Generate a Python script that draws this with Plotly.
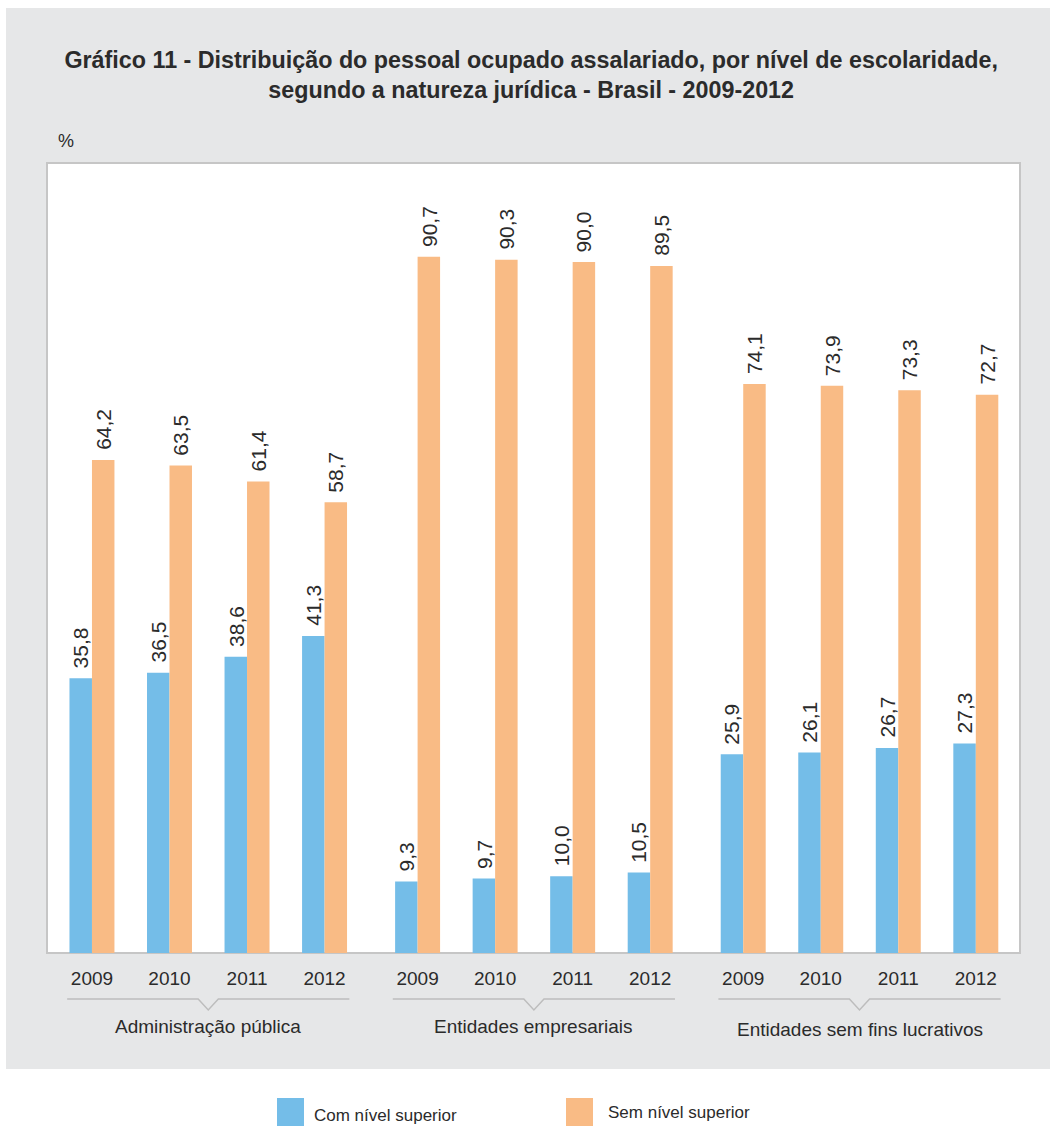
import plotly.graph_objects as go

groups = ["Administração pública", "Entidades empresariais", "Entidades sem fins lucrativos"]
years = ["2009", "2010", "2011", "2012"]
series_names = ["Com nível superior", "Sem nível superior"]
com_superior = [35.8, 36.5, 38.6, 41.3, 9.3, 9.7, 10.0, 10.5, 25.9, 26.1, 26.7, 27.3]
sem_superior = [64.2, 63.5, 61.4, 58.7, 90.7, 90.3, 90.0, 89.5, 74.1, 73.9, 73.3, 72.7]
colors = ["#74bde8", "#f9bb85"]

W, H = 1056, 1126
ML, MR, MT, MB = 47, 36, 163, 173
PW, PH = W - ML - MR, H - MT - MB
GROUP_STEP = 4.2
BARGAP = 0.42
TXT = "#2b2b2b"
FONT = "Liberation Sans, Arial, sans-serif"

positions = [g * GROUP_STEP + i for g in range(len(groups)) for i in range(len(years))]
ticktext = [y for _ in groups for y in years]

def px_x(p):
    return (p - ML) / PW

def px_y(p):
    return (H - MB - p) / PH

def fmt(v):
    return f"{v:.1f}".replace(".", ",")

fig = go.Figure()
series = [com_superior, sem_superior]
for name, vals, col in zip(series_names, series, colors):
    fig.add_trace(go.Bar(x=positions, y=vals, name=name, marker=dict(color=col, line=dict(width=0)),
                         showlegend=False))

bar_w = (1 - BARGAP) / len(series)
annotations = []
for k, vals in enumerate(series):
    off = (k - (len(series) - 1) / 2) * bar_w
    for p, v in zip(positions, vals):
        annotations.append(dict(x=p + off, y=v, xref="x", yref="y", text=fmt(v), showarrow=False,
                                textangle=-90, xanchor="center", yanchor="bottom", yshift=8,
                                font=dict(size=21, color=TXT, family=FONT)))

shapes = []
# gray panel
shapes.append(dict(type="rect", xref="paper", yref="paper", x0=px_x(6), x1=px_x(1050), y0=px_y(1069), y1=px_y(8),
                   fillcolor="#e6e7e8", line=dict(width=0), layer="below"))
# plot area white
shapes.append(dict(type="rect", xref="paper", yref="paper", x0=0, x1=1, y0=0, y1=1,
                   fillcolor="white", line=dict(color="#c6c6c6", width=2), layer="below"))

y_line = px_y(999)
y_notch = px_y(1010)
for g, gname in enumerate(groups):
    start = g * GROUP_STEP
    center = start + (len(years) - 1) / 2
    x0, x1 = start - 0.32, start + len(years) - 1 + 0.32
    nw = 0.13
    path = (f"M {x0},{y_line} L {center - nw},{y_line} L {center},{y_notch} "
            f"L {center + nw},{y_line} L {x1},{y_line}")
    shapes.append(dict(type="path", xref="x", yref="paper", path=path,
                       line=dict(color="#bdbdbd", width=1.5)))
    annotations.append(dict(x=center, y=px_y(1026 if g < 2 else 1029), xref="x", yref="paper", text=gname,
                            showarrow=False, xanchor="center", yanchor="middle",
                            font=dict(size=19, color=TXT, family=FONT)))

# percent sign
annotations.append(dict(x=px_x(56), y=px_y(141), xref="paper", yref="paper", text="%", showarrow=False,
                        xanchor="left", yanchor="middle", font=dict(size=18, color=TXT, family=FONT)))

# custom legend
leg_sq = [(277, 1098), (566, 1098)]
leg_txt = [(312, 1115), (606, 1112)]
for name, col, (sx, sy), (tx, ty) in zip(series_names, colors, leg_sq, leg_txt):
    shapes.append(dict(type="rect", xref="paper", yref="paper", x0=px_x(sx), x1=px_x(sx + 27),
                       y0=px_y(sy + 28), y1=px_y(sy), fillcolor=col, line=dict(width=0)))
    annotations.append(dict(x=px_x(tx), y=px_y(ty), xref="paper", yref="paper", text=name, showarrow=False,
                            xanchor="left", yanchor="middle", font=dict(size=17, color=TXT, family=FONT)))

fig.update_layout(
    width=W, height=H,
    margin=dict(l=ML, r=MR, t=MT, b=MB, pad=0),
    paper_bgcolor="white", plot_bgcolor="rgba(0,0,0,0)",
    barmode="group", bargap=BARGAP, bargroupgap=0,
    title=dict(text="Gráfico 11 - Distribuição do pessoal ocupado assalariado, por nível de escolaridade,<br>"
                    "segundo a natureza jurídica - Brasil - 2009-2012",
               x=0.503, xref="container", xanchor="center", y=1 - 68 / H, yref="container", yanchor="middle",
               font=dict(size=23.3, color=TXT, family=FONT, weight="bold")),
    xaxis=dict(tickmode="array", tickvals=positions, ticktext=ticktext, range=[-0.58, 11.97],
               showgrid=False, zeroline=False, showline=False, ticks="", ticklabelstandoff=12,
               tickfont=dict(size=19, color=TXT, family=FONT)),
    yaxis=dict(range=[0, 102.9], showgrid=False, zeroline=False, showticklabels=False, ticks="", showline=False),
    shapes=shapes, annotations=annotations,
)

fig.write_html("out.html", config={"displayModeBar": False},
               post_script="document.body.style.margin='0';document.body.style.overflow='hidden';")
